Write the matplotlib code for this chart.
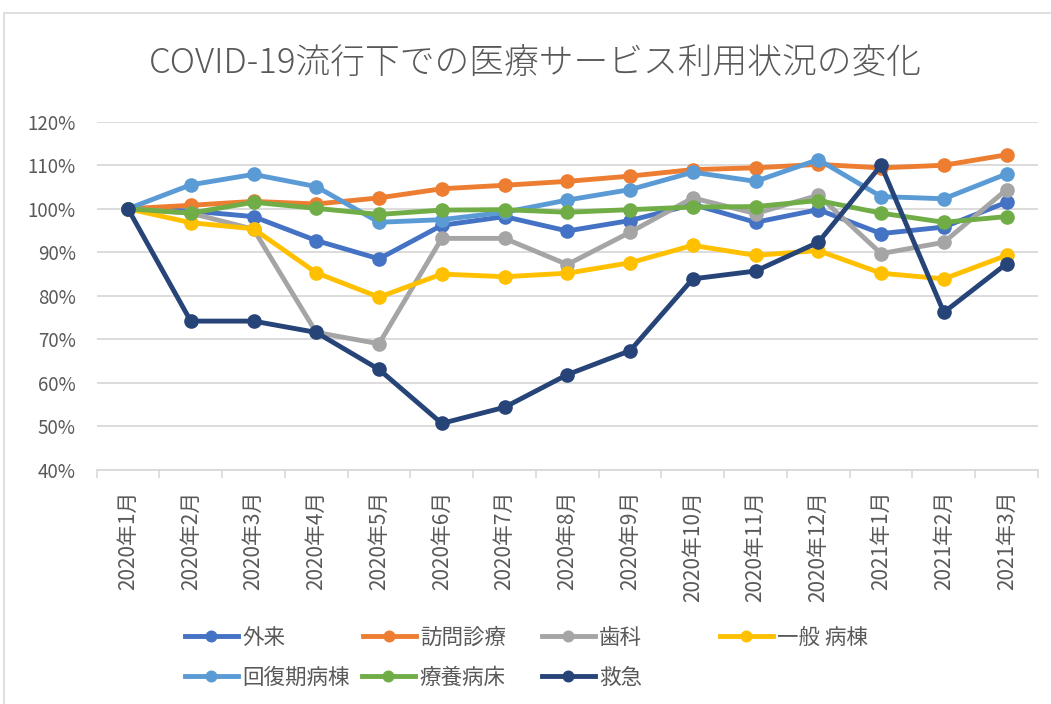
import matplotlib
matplotlib.use("Agg")
import matplotlib.pyplot as plt
from matplotlib.patches import Rectangle
from matplotlib.ticker import FixedLocator, FuncFormatter
import numpy as np

plt.rcParams['font.family'] = ['Noto Sans CJK JP', 'DejaVu Sans']

title = 'COVID-19流行下での医療サービス利用状況の変化'
months = ['2020年1月', '2020年2月', '2020年3月', '2020年4月', '2020年5月', '2020年6月',
          '2020年7月', '2020年8月', '2020年9月', '2020年10月', '2020年11月', '2020年12月',
          '2021年1月', '2021年2月', '2021年3月']

gairai = [100, 99.5, 98.2, 92.7, 88.5, 96.2, 98.2, 94.9, 97.3, 101.0, 96.9, 99.8, 94.3, 95.8, 101.5]
houmon = [100, 100.8, 101.7, 101.1, 102.5, 104.6, 105.4, 106.3, 107.5, 109.0, 109.4, 110.2, 109.4, 110.0, 112.4]
shika = [100, 99.0, 95.3, 71.6, 69.0, 93.2, 93.2, 87.2, 94.6, 102.5, 98.9, 103.1, 89.7, 92.3, 104.4]
ippan = [100, 96.8, 95.4, 85.3, 79.7, 85.0, 84.4, 85.2, 87.6, 91.6, 89.3, 90.4, 85.2, 83.9, 89.3]
kaifuku = [100, 105.5, 107.9, 105.1, 96.9, 97.5, 99.2, 102.0, 104.4, 108.4, 106.3, 111.3, 102.8, 102.3, 108.0]
ryouyou = [100, 99.0, 101.5, 100.1, 98.7, 99.7, 99.8, 99.2, 99.8, 100.4, 100.5, 101.9, 99.0, 96.9, 98.2]
kyukyu = [100, 74.2, 74.2, 71.6, 63.1, 50.7, 54.4, 61.9, 67.4, 83.9, 85.7, 92.3, 110.0, 76.2, 87.4]

series_names = ['外来', '訪問診療', '歯科', '一般 病棟', '回復期病棟', '療養病床', '救急']
series_values = [gairai, houmon, shika, ippan, kaifuku, ryouyou, kyukyu]
colors = ['#4472C4', '#ED7D31', '#A5A5A5', '#FFC000', '#5B9BD5', '#70AD47', '#264478']

y_ticks = [40, 50, 60, 70, 80, 90, 100, 110, 120]

W, H = 1051, 704
fig = plt.figure(figsize=(W / 100, H / 100), dpi=100)
fig.patch.set_facecolor('white')

# chart frame border
fig.patches.append(Rectangle((4 / W, -0.1), 1.2, (H - 13) / H + 0.1,
                             transform=fig.transFigure, fill=False,
                             edgecolor='#D9D9D9', lw=1.2, clip_on=False))

left, right = 96.6, 1038
top, bottom = 121.7, 470
ax = fig.add_axes([left / W, 1 - bottom / H, (right - left) / W, (bottom - top) / H])

x = np.arange(len(months))
lines = []
for name, vals, c in zip(series_names, series_values, colors):
    ln, = ax.plot(x, vals, color=c, lw=3.5, marker='o', ms=9.5,
                  markeredgecolor=c, markerfacecolor=c, label=name,
                  solid_joinstyle='round', clip_on=False)
    lines.append(ln)

ax.set_xlim(-0.5, len(months) - 0.5)
ax.set_ylim(40, 120)

ax.yaxis.set_major_locator(FixedLocator(y_ticks))
ax.yaxis.set_major_formatter(FuncFormatter(lambda v, p: f'{int(round(v))}%'))
ax.grid(axis='y', color='#D9D9D9', lw=1.3)
ax.set_axisbelow(True)

ax.set_xticks(x)
ax.set_xticklabels(months, rotation=90, fontsize=15, color='#595959')
ax.set_xticks(np.arange(-0.5, len(months)), minor=True)
ax.tick_params(axis='x', which='major', length=0, pad=15)
ax.tick_params(axis='x', which='minor', length=6, width=1.2, color='#D9D9D9')
ax.tick_params(axis='y', length=0, pad=15, labelsize=13.5, labelcolor='#595959')

for s in ['top', 'right', 'left']:
    ax.spines[s].set_visible(False)
ax.spines['bottom'].set_color('#D9D9D9')
ax.spines['bottom'].set_linewidth(1.3)

fig.text(535 / W, 1 - 63 / H, title, ha='center', va='center',
         fontsize=25, color='#595959', fontweight='light')

# legend entries placed like the Excel legend
positions = [(185, 638), (363, 638), (542, 638), (720, 638),
             (185, 678), (362, 678), (542, 678)]
for ln, name, (px, py) in zip(lines, series_names, positions):
    leg = fig.legend([ln], [name], loc='center left',
                     bbox_to_anchor=(px / W, 1 - py / H),
                     bbox_transform=fig.transFigure, frameon=False,
                     borderpad=0, borderaxespad=0, handlelength=2.45,
                     handletextpad=0.2, markerscale=0.8,
                     prop={'size': 15.5})
    for t in leg.get_texts():
        t.set_color('#595959')

fig.savefig('out.png', dpi=100, facecolor='white')
